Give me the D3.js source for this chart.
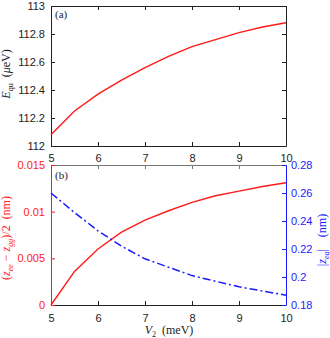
<!DOCTYPE html>
<html><head><meta charset="utf-8">
<script src="https://cdn.jsdelivr.net/npm/d3@7"></script>
<style>body{margin:0;background:#fff}svg{display:block}</style>
</head><body>
<script>
const V2 = [5, 5.5, 6, 6.5, 7, 7.5, 8, 8.5, 9, 9.5, 10];
const Equ = [112.08, 112.25, 112.37, 112.47, 112.56, 112.64, 112.71, 112.76, 112.81, 112.85, 112.88];
const zDiff = [0, 0.0036, 0.0060, 0.0078, 0.0091, 0.0101, 0.0110, 0.0117, 0.0122, 0.0127, 0.0131];
const zEg = [0.260, 0.246, 0.233, 0.222, 0.213, 0.207, 0.201, 0.197, 0.193, 0.190, 0.187];
const xTicks = [5, 6, 7, 8, 9, 10];
const yTopTicks = [112, 112.2, 112.4, 112.6, 112.8, 113];
const yLTicks = [0, 0.005, 0.01, 0.015];
const yRTicks = [0.18, 0.2, 0.22, 0.24, 0.26, 0.28];

const W = 330, H = 338;
const svg = d3.select("body").append("svg").attr("width", W).attr("height", H)
  .style("font-family", "'Liberation Sans', Arial, sans-serif");

const L = 51, R = 286;
const x = d3.scaleLinear().domain([5, 10]).range([L, R]);
const yT = d3.scaleLinear().domain([112, 113]).range([146, 6]);
const yL = d3.scaleLinear().domain([0, 0.015]).range([305, 165]);
const yR = d3.scaleLinear().domain([0.18, 0.28]).range([305, 165]);
const RED = "#ff1a1a", BLUE = "#1a1aff", FS = 11;

function style(g, color) {
  g.select(".domain").attr("stroke", color);
  g.selectAll(".tick line").attr("stroke", color);
  g.selectAll(".tick text").attr("fill", color).style("font-size", FS + "px")
    .style("font-family", "'Liberation Sans', Arial, sans-serif");
}
const fmtX = d => String(d);
const fmtT = d => String(+d.toFixed(1));
const fmtL = d => String(+d.toFixed(3));
const fmtR = d => String(+d.toFixed(2));

let g;
g = svg.append("g").attr("transform", `translate(0,146)`)
  .call(d3.axisBottom(x).tickValues(xTicks).tickSize(-4).tickPadding(8).tickSizeOuter(0).tickFormat(fmtX));
style(g, "#222");
g = svg.append("g").attr("transform", `translate(0,6)`)
  .call(d3.axisTop(x).tickValues(xTicks).tickSize(-4).tickFormat("").tickSizeOuter(0));
style(g, "#222");
g = svg.append("g").attr("transform", `translate(${L},0)`)
  .call(d3.axisLeft(yT).tickValues(yTopTicks).tickSize(-4).tickPadding(6).tickSizeOuter(0).tickFormat(fmtT));
style(g, "#222");
g = svg.append("g").attr("transform", `translate(${R},0)`)
  .call(d3.axisRight(yT).tickValues(yTopTicks).tickSize(-4).tickFormat("").tickSizeOuter(0));
style(g, "#222");

svg.append("path").datum(V2.map((v, i) => [v, Equ[i]]))
  .attr("fill", "none").attr("stroke", RED).attr("stroke-width", 1.4)
  .attr("d", d3.line().x(d => x(d[0])).y(d => yT(d[1])));

svg.append("text").attr("x", 55).attr("y", 18).style("font-family", "'Liberation Serif', serif")
  .style("font-size", "11px").attr("fill", "#222").text("(a)");

function sub(t, s, size, italic) {
  const ts = t.append("tspan").attr("dy", 3).style("font-size", size + "px").text(s);
  if (italic) ts.style("font-style", "italic");
  return ts;
}

const tl = svg.append("text").attr("transform", "translate(10,74) rotate(-90)")
  .attr("text-anchor", "middle").style("font-family", "'Liberation Serif', serif").style("font-size", "12px").attr("fill", "#222");
tl.append("tspan").style("font-style", "italic").text("E");
sub(tl, "qu", 8, false);
tl.append("tspan").attr("dy", -3).text("\u2002(");
tl.append("tspan").style("font-style", "italic").text("\u03bc");
tl.append("tspan").text("eV)");

g = svg.append("g").attr("transform", `translate(0,305)`)
  .call(d3.axisBottom(x).tickValues(xTicks).tickSize(-4).tickPadding(9).tickSizeOuter(0).tickFormat(fmtX));
style(g, "#222");
g = svg.append("g").attr("transform", `translate(0,165)`)
  .call(d3.axisTop(x).tickValues(xTicks).tickSize(-4).tickFormat("").tickSizeOuter(0));
style(g, "#777");
g = svg.append("g").attr("transform", `translate(${L},0)`)
  .call(d3.axisLeft(yL).tickValues(yLTicks).tickSize(-4).tickPadding(6).tickSizeOuter(0).tickFormat(fmtL));
style(g, RED);
g = svg.append("g").attr("transform", `translate(${R},0)`)
  .call(d3.axisRight(yR).tickValues(yRTicks).tickSize(-4).tickPadding(5).tickSizeOuter(0).tickFormat(fmtR));
style(g, BLUE);

svg.append("path").datum(V2.map((v, i) => [v, zDiff[i]]))
  .attr("fill", "none").attr("stroke", RED).attr("stroke-width", 1.4)
  .attr("d", d3.line().x(d => x(d[0])).y(d => yL(d[1])));
svg.append("path").datum(V2.map((v, i) => [v, zEg[i]]))
  .attr("fill", "none").attr("stroke", BLUE).attr("stroke-width", 1.5)
  .attr("stroke-dasharray", "8,3,2,3")
  .attr("d", d3.line().x(d => x(d[0])).y(d => yR(d[1])));

svg.append("text").attr("x", 55).attr("y", 179).style("font-family", "'Liberation Serif', serif")
  .style("font-size", "11px").attr("fill", "#222").text("(b)");

const bl = svg.append("text").attr("transform", "translate(10,238) rotate(-90)")
  .attr("text-anchor", "middle").style("font-family", "'Liberation Serif', serif").style("font-size", "12px").attr("fill", RED);
bl.append("tspan").text("(");
bl.append("tspan").style("font-style", "italic").text("z");
sub(bl, "ee", 8, true);
bl.append("tspan").attr("dy", -3).text(" \u2212 ");
bl.append("tspan").style("font-style", "italic").text("z");
sub(bl, "gg", 8, true);
bl.append("tspan").attr("dy", -3).text(")/2\u2002(nm)");

const br = svg.append("text").attr("transform", "translate(326,240) rotate(-90)")
  .attr("text-anchor", "middle").style("font-family", "'Liberation Serif', serif").style("font-size", "12px").attr("fill", BLUE);
br.append("tspan").text("|");
br.append("tspan").style("font-style", "italic").text("z");
sub(br, "eg", 8, true);
br.append("tspan").attr("dy", -3).text("|\u2002\u2002(nm)");

const xl = svg.append("text").attr("x", 169).attr("y", 334).attr("text-anchor", "middle")
  .style("font-family", "'Liberation Serif', serif").style("font-size", "12px").attr("fill", "#222");
xl.append("tspan").style("font-style", "italic").text("V");
sub(xl, "2", 8, false);
xl.append("tspan").attr("dy", -3).text("\u2002(meV)");
</script>
</body></html>
